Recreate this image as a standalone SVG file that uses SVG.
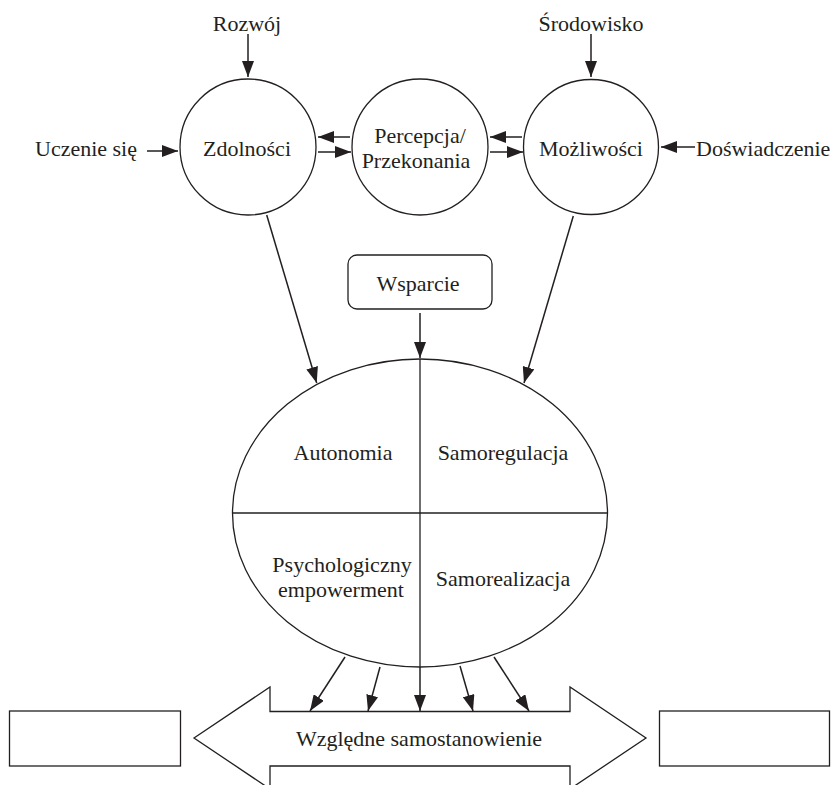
<svg xmlns="http://www.w3.org/2000/svg" width="831" height="785" viewBox="0 0 831 785">
<style>
.t{font-family:"Liberation Serif","Times New Roman",serif;font-size:22px;fill:#231f20}
.m{text-anchor:middle}
.s{fill:none;stroke:#231f20;stroke-width:1.3}
.w{fill:#fff;stroke:#231f20;stroke-width:1.3}
.c{fill:none;stroke:#231f20;stroke-width:1.5}
</style>
<defs>
<marker id="ah" markerUnits="userSpaceOnUse" markerWidth="17" markerHeight="12" refX="16" refY="6" orient="auto">
<path d="M0,0 L16,6 L0,12 z" fill="#231f20"/>
</marker>
</defs>
<rect width="831" height="785" fill="#fff"/>

<g id="zdolnosci">
<circle class="w" cx="248" cy="147" r="68"/>
<text class="t m" x="247" y="156">Zdolności</text>
</g>
<g id="percepcja">
<circle class="w" cx="420" cy="147" r="68"/>
<text class="t m" x="420" y="143">Percepcja/</text>
<text class="t m" x="416" y="168">Przekonania</text>
</g>
<g id="mozliwosci">
<circle class="w" cx="591" cy="147" r="67.5"/>
<text class="t m" x="591" y="156">Możliwości</text>
</g>
<g id="rozwoj"><text class="t m" x="247" y="31">Rozwój</text></g>
<g id="srodowisko"><text class="t m" x="591" y="31">Środowisko</text></g>
<g id="uczenie"><text class="t" x="137" y="156" text-anchor="end">Uczenie się</text></g>
<g id="doswiadczenie"><text class="t" x="696" y="156">Doświadczenie</text></g>
<g id="wsparcie">
<rect class="w" x="348" y="255" width="144" height="54" rx="9"/>
<text class="t m" x="418" y="291">Wsparcie</text>
</g>
<g id="ellipse">
<ellipse class="w" cx="420" cy="513" rx="187.5" ry="154"/>
<line class="s" x1="420" y1="359" x2="420" y2="667"/>
<line class="s" x1="232.5" y1="513" x2="607.5" y2="513"/>
<text class="t m" x="343" y="460">Autonomia</text>
<text class="t m" x="503" y="460">Samoregulacja</text>
<text class="t m" x="342" y="572">Psychologiczny</text>
<text class="t m" x="341" y="597">empowerment</text>
<text class="t m" x="503" y="586">Samorealizacja</text>
</g>
<g id="wzgledne">
<polygon class="w" points="194,738 270,687 270,711.5 570,711.5 570,687 646,738 570,789 570,766 270,766 270,789"/>
<text class="t m" x="419" y="746">Względne samostanowienie</text>
</g>
<g id="leftbox"><rect class="w" x="9.5" y="711" width="171" height="55"/></g>
<g id="rightbox"><rect class="w" x="659.5" y="711" width="170" height="55"/></g>

<g id="connectors">
<line class="c" x1="248" y1="34" x2="248" y2="77" marker-end="url(#ah)"/>
<line class="c" x1="591" y1="34" x2="591" y2="77" marker-end="url(#ah)"/>
<line class="c" x1="147" y1="151" x2="178" y2="151" marker-end="url(#ah)"/>
<line class="c" x1="695" y1="147" x2="661" y2="147" marker-end="url(#ah)"/>
<line class="c" x1="350" y1="137" x2="318" y2="137" marker-end="url(#ah)"/>
<line class="c" x1="318" y1="152" x2="351" y2="152" marker-end="url(#ah)"/>
<line class="c" x1="522" y1="137" x2="490" y2="137" marker-end="url(#ah)"/>
<line class="c" x1="490" y1="152" x2="523" y2="152" marker-end="url(#ah)"/>
<line class="c" x1="266.7" y1="215" x2="316.7" y2="383" marker-end="url(#ah)"/>
<line class="c" x1="573.3" y1="216" x2="524" y2="383" marker-end="url(#ah)"/>
<line class="c" x1="420" y1="313" x2="420" y2="358" marker-end="url(#ah)"/>
<line class="c" x1="345" y1="657" x2="310" y2="711" marker-end="url(#ah)"/>
<line class="c" x1="380" y1="667" x2="368" y2="711" marker-end="url(#ah)"/>
<line class="c" x1="420" y1="667" x2="420" y2="711" marker-end="url(#ah)"/>
<line class="c" x1="460" y1="666" x2="473" y2="711" marker-end="url(#ah)"/>
<line class="c" x1="494" y1="657" x2="529" y2="711" marker-end="url(#ah)"/>
</g>
</svg>
